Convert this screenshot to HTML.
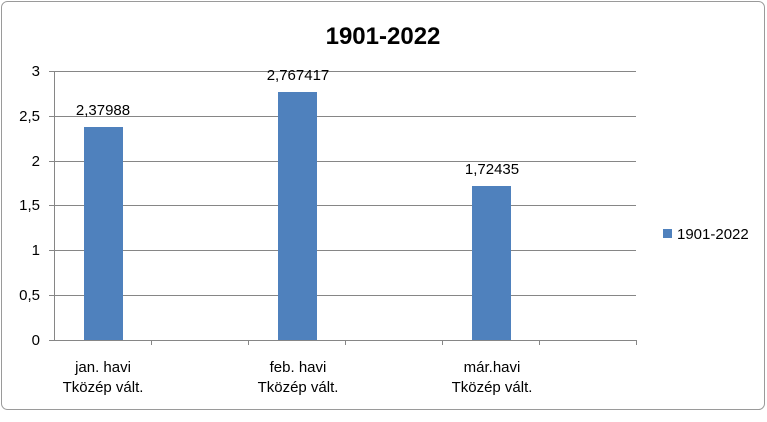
<!DOCTYPE html>
<html><head><style>
body{margin:0;background:#fff;}
svg text{font-family:"Liberation Sans",sans-serif;}
</style></head><body>
<svg width="767" height="417" xmlns="http://www.w3.org/2000/svg">
<rect x="0" y="0" width="767" height="417" fill="#fff"/>
<rect x="1.5" y="1.5" width="763" height="408" rx="6" fill="#fff" stroke="#9a9a9a" stroke-width="1"/>
<text x="383" y="44" font-size="24" font-weight="bold" text-anchor="middle" fill="#000">1901-2022</text>
<g stroke="#868686" stroke-width="1">
<line x1="54" y1="71.5" x2="636" y2="71.5"/>
<line x1="54" y1="116.5" x2="636" y2="116.5"/>
<line x1="54" y1="161.5" x2="636" y2="161.5"/>
<line x1="54" y1="205.5" x2="636" y2="205.5"/>
<line x1="54" y1="250.5" x2="636" y2="250.5"/>
<line x1="54" y1="295.5" x2="636" y2="295.5"/>
<line x1="54.5" y1="71" x2="54.5" y2="340"/>
<line x1="49" y1="340.5" x2="636" y2="340.5"/>
<line x1="49" y1="71.5" x2="54" y2="71.5"/>
<line x1="49" y1="116.5" x2="54" y2="116.5"/>
<line x1="49" y1="161.5" x2="54" y2="161.5"/>
<line x1="49" y1="205.5" x2="54" y2="205.5"/>
<line x1="49" y1="250.5" x2="54" y2="250.5"/>
<line x1="49" y1="295.5" x2="54" y2="295.5"/>
<line x1="151.5" y1="340" x2="151.5" y2="345"/>
<line x1="248.5" y1="340" x2="248.5" y2="345"/>
<line x1="345.5" y1="340" x2="345.5" y2="345"/>
<line x1="442.5" y1="340" x2="442.5" y2="345"/>
<line x1="539.5" y1="340" x2="539.5" y2="345"/>
<line x1="636.5" y1="340" x2="636.5" y2="345"/>
</g>
<g font-size="15" fill="#000" text-anchor="end">
<text x="40" y="76">3</text>
<text x="40" y="121">2,5</text>
<text x="40" y="166">2</text>
<text x="40" y="210">1,5</text>
<text x="40" y="255">1</text>
<text x="40" y="300">0,5</text>
<text x="40" y="345">0</text>
</g>
<g fill="#4f81bd">
<rect x="84" y="127" width="39" height="213"/>
<rect x="278" y="92" width="39" height="248"/>
<rect x="472" y="186" width="39" height="154"/>
</g>
<g font-size="15" fill="#000" text-anchor="middle">
<text x="103" y="115">2,37988</text>
<text x="298" y="80">2,767417</text>
<text x="492" y="174">1,72435</text>
<text x="103" y="372">jan. havi</text>
<text x="103" y="392">Tközép vált.</text>
<text x="298" y="372">feb. havi</text>
<text x="298" y="392">Tközép vált.</text>
<text x="492" y="372">már.havi</text>
<text x="492" y="392">Tközép vált.</text>
</g>
<rect x="663" y="229" width="9" height="9" fill="#4f81bd"/>
<text x="677" y="239" font-size="15" fill="#000">1901-2022</text>
</svg>
</body></html>
